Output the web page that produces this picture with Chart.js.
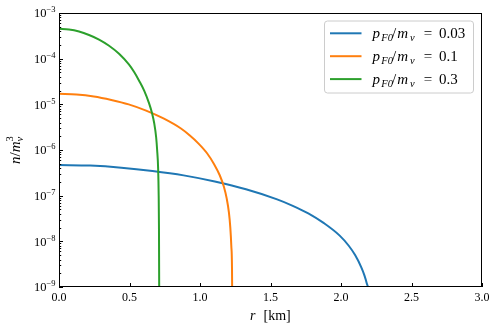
<!DOCTYPE html>
<html>
<head>
<meta charset="utf-8">
<script src="https://cdn.jsdelivr.net/npm/chart.js@4.4.0/dist/chart.umd.min.js"></script>
<style>
  html, body { margin: 0; padding: 0; background: #fff; }
  #wrap { width: 498px; height: 332px; }
</style>
</head>
<body>
<div id="wrap"><canvas id="densityChart" width="498" height="332"></canvas></div>
<script>
// values (r in km, n/m_nu^3)
const radiusLow = [0, 0.221, 0.442, 0.663, 0.884, 1.105, 1.326, 1.547, 1.658, 1.768, 1.879, 1.989, 2.055, 2.1, 2.144, 2.166, 2.183, 2.199, 2.203];
const densityLow = [4.7e-7, 4.55e-7, 4.1e-7, 3.47e-7, 2.78e-7, 2.04e-7, 1.38e-7, 8.3e-8, 6.0e-8, 4.1e-8, 2.5e-8, 1.35e-8, 8.0e-9, 5.0e-9, 2.7e-9, 1.8e-9, 1.2e-9, 5e-10, 1e-10];

const radiusMid = [0, 0.124, 0.247, 0.371, 0.494, 0.618, 0.741, 0.865, 0.926, 0.988, 1.05, 1.1, 1.14, 1.17, 1.19, 1.205, 1.215, 1.222, 1.227, 1.23];
const densityMid = [1.7e-5, 1.645e-5, 1.49e-5, 1.25e-5, 1.0e-5, 7.3e-6, 4.9e-6, 2.95e-6, 2.1e-6, 1.4e-6, 8.5e-7, 4.9e-7, 2.8e-7, 1.55e-7, 8.5e-8, 4.3e-8, 2.0e-8, 8e-9, 2.5e-9, 1e-10];

const radiusHigh = [0, 0.071, 0.142, 0.213, 0.284, 0.355, 0.426, 0.497, 0.533, 0.568, 0.604, 0.639, 0.66, 0.675, 0.689, 0.696, 0.703, 0.707, 0.709, 0.7105, 0.711];
const densityHigh = [4.5e-4, 4.35e-4, 3.93e-4, 3.3e-4, 2.62e-4, 1.92e-4, 1.28e-4, 7.4e-5, 5.1e-5, 3.3e-5, 2.0e-5, 1.05e-5, 6.4e-6, 3.9e-6, 1.9e-6, 1.0e-6, 4.0e-7, 1.0e-7, 2e-8, 1e-9, 1e-10];

const seriesValues = ['0.03', '0.1', '0.3'];
const seriesColors = ['#1f77b4', '#ff7f0e', '#2ca02c'];
const xTickValues = [0, 0.5, 1.0, 1.5, 2.0, 2.5, 3.0];
const yTickExponents = [-3, -4, -5, -6, -7, -8, -9];

const SERIF = '"Liberation Serif", "DejaVu Serif", serif';

function toPoints(xs, ys) {
     return xs.map((x, i) => ({ x: x, y: ys[i] }));
}

function setFont(ctx, p) {
     ctx.font = (p.it ? 'italic ' : '') + p.size + 'px ' + SERIF;
}

// pieces of text laid out one after another (stack = next piece shares x)
function richWidth(ctx, parts) {
     let cx = 0, pending = 0;
     parts.forEach(p => {
          setFont(ctx, p);
          const w = ctx.measureText(p.t).width + (p.gap || 0);
          if (p.stack) { pending = w; } else { cx += Math.max(w, pending); pending = 0; }
     });
     return cx;
}

function drawRich(ctx, parts, x, y, align) {
     const total = richWidth(ctx, parts);
     let cx = align === 'center' ? x - total / 2 : (align === 'right' ? x - total : x);
     let pending = 0;
     ctx.textAlign = 'left';
     ctx.textBaseline = 'alphabetic';
     parts.forEach(p => {
          setFont(ctx, p);
          const w = ctx.measureText(p.t).width + (p.gap || 0);
          ctx.fillText(p.t, cx, y + (p.dy || 0));
          if (p.stack) { pending = w; } else { cx += Math.max(w, pending); pending = 0; }
     });
}

// legend entries: pieces at fixed offsets from the text start
function drawLegendText(ctx, val, x, y) {
     const pieces = [
          { t: 'p', it: true, size: 15, at: 0 },
          { t: 'F0', it: true, size: 10.5, at: 8.8, dy: 3 },
          { t: '/', size: 15, at: 19.5 },
          { t: 'm', it: true, size: 15, at: 24.8 },
          { t: 'ν', it: true, size: 10.5, at: 37.6, dy: 3 },
          { t: '=', size: 15, at: 51.2 },
          { t: val, size: 15, at: 66.5 }
     ];
     ctx.textAlign = 'left';
     ctx.textBaseline = 'alphabetic';
     pieces.forEach(p => {
          setFont(ctx, p);
          ctx.fillText(p.t, x + p.at, y + (p.dy || 0));
     });
}

const decorPlugin = {
     id: 'decor',
     afterDatasetsDraw(chart) {
          const ctx = chart.ctx;
          const a = chart.chartArea;
          const xs = chart.scales.x, ys = chart.scales.y;
          ctx.save();
          ctx.strokeStyle = '#000';
          ctx.lineWidth = 1;
          ctx.strokeRect(Math.round(a.left) + 0.5, Math.round(a.top) + 0.5,
               Math.round(a.right - a.left) - 1, Math.round(a.bottom - a.top) - 1);

          // inward ticks
          ctx.beginPath();
          xTickValues.forEach(v => {
               const px = Math.round(xs.getPixelForValue(v)) + 0.5;
               ctx.moveTo(px, a.bottom);
               ctx.lineTo(px, a.bottom - 4);
          });
          for (let e = -9; e < -3; e++) {
               for (let d = 1; d <= 9; d++) {
                    const py = Math.round(ys.getPixelForValue(d * Math.pow(10, e))) + 0.5;
                    ctx.moveTo(a.left, py);
                    ctx.lineTo(a.left + (d === 1 ? 4 : 2.2), py);
               }
          }
          ctx.stroke();

          // y tick labels 10^e
          ctx.fillStyle = '#000';
          yTickExponents.forEach(e => {
               const py = ys.getPixelForValue(Math.pow(10, e));
               drawRich(ctx, [
                    { t: '10', size: 12.5 },
                    { t: '−' + Math.abs(e), size: 8.5, dy: -5 }
               ], 55.5, py + 4.2, 'right');
          });

          // axis titles
          ctx.font = 'italic 14px ' + SERIF;
          ctx.textAlign = 'left';
          ctx.fillText('r', 250, 319.5);
          ctx.font = '14px ' + SERIF;
          ctx.fillText('[km]', 263.5, 319.5);

          ctx.save();
          ctx.translate(20, (a.top + a.bottom) / 2);
          ctx.rotate(-Math.PI / 2);
          drawRich(ctx, [
               { t: 'n', it: true, size: 15 },
               { t: '/', size: 15 },
               { t: 'm', it: true, size: 15 },
               { t: 'ν', it: true, size: 10.5, dy: 3, stack: true },
               { t: '3', size: 10.5, dy: -7 }
          ], 0, 0, 'center');
          ctx.restore();
          ctx.restore();
     },
     afterDraw(chart) {
          const ctx = chart.ctx;
          const a = chart.chartArea;
          const bx = a.right - 158, by = a.top + 7.5, bw = 149, bh = 72;
          ctx.save();
          ctx.beginPath();
          ctx.roundRect(bx + 0.5, by + 0.5, bw, bh, 3);
          ctx.fillStyle = 'rgba(255,255,255,0.8)';
          ctx.fill();
          ctx.strokeStyle = '#cccccc';
          ctx.lineWidth = 1;
          ctx.stroke();
          seriesValues.forEach((v, i) => {
               const ry = by + 12.8 + i * 22.9;
               ctx.beginPath();
               ctx.strokeStyle = seriesColors[i];
               ctx.lineWidth = 2;
               ctx.moveTo(bx + 6, ry);
               ctx.lineTo(bx + 37.5, ry);
               ctx.stroke();
               ctx.fillStyle = '#000';
               drawLegendText(ctx, v, bx + 48.5, ry + 4.5);
          });
          ctx.restore();
     }
};

document.addEventListener('DOMContentLoaded', function () {
     const ctx = document.getElementById('densityChart').getContext('2d');
     const curves = [toPoints(radiusLow, densityLow), toPoints(radiusMid, densityMid), toPoints(radiusHigh, densityHigh)];
     new Chart(ctx, {
          type: 'line',
          data: {
               datasets: curves.map((pts, i) => ({
                    label: 'pF0/mν = ' + seriesValues[i],
                    data: pts,
                    borderColor: seriesColors[i],
                    backgroundColor: seriesColors[i],
                    borderWidth: 2,
                    pointRadius: 0,
                    fill: false,
                    cubicInterpolationMode: 'monotone',
                    order: 3 - i
               }))
          },
          options: {
               responsive: false,
               animation: false,
               devicePixelRatio: 1,
               layout: { padding: { top: 13, right: 16, left: 0, bottom: 0 } },
               plugins: {
                    legend: { display: false },
                    tooltip: { enabled: false }
               },
               scales: {
                    x: {
                         type: 'linear',
                         min: 0,
                         max: 3,
                         afterFit: s => { s.height = 45; },
                         afterBuildTicks: s => { s.ticks = xTickValues.map(v => ({ value: v })); },
                         grid: { display: false, drawTicks: false },
                         border: { display: false },
                         ticks: {
                              padding: 4,
                              color: '#000',
                              font: { family: SERIF, size: 12 },
                              maxRotation: 0,
                              callback: v => Number(v).toFixed(1)
                         }
                    },
                    y: {
                         type: 'logarithmic',
                         min: 1e-9,
                         max: 1e-3,
                         afterFit: s => { s.width = 59; },
                         grid: { display: false, drawTicks: false },
                         border: { display: false },
                         ticks: { display: false }
                    }
               }
          },
          plugins: [decorPlugin]
     });
});
</script>
</body>
</html>
